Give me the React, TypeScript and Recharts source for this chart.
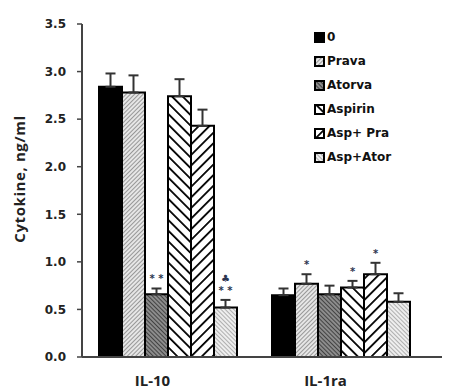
import { BarChart, Bar, XAxis, YAxis, ErrorBar, Legend, LabelList } from "recharts";

// groups and series
const categories = ["IL-10", "IL-1ra"];
const seriesNames = ["0", "Prava", "Atorva", "Aspirin", "Asp+ Pra", "Asp+Ator"];

const ctrl = [2.84, 0.65];
const prava = [2.78, 0.77];
const atorva = [0.66, 0.66];
const aspirin = [2.74, 0.73];
const aspPra = [2.43, 0.87];
const aspAtor = [0.52, 0.58];

const ctrlErr = [0.14, 0.07];
const pravaErr = [0.18, 0.1];
const atorvaErr = [0.06, 0.09];
const aspirinErr = [0.18, 0.07];
const aspPraErr = [0.17, 0.12];
const aspAtorErr = [0.08, 0.09];

// significance marks above the error bars
const ctrlMark = ["", ""];
const pravaMark = ["", "*"];
const atorvaMark = ["* *", ""];
const aspirinMark = ["", "*"];
const aspPraMark = ["", "*"];
const aspAtorMark = ["♣\n* *", ""];

const yTicks = [0, 0.5, 1, 1.5, 2, 2.5, 3, 3.5];

const values = [ctrl, prava, atorva, aspirin, aspPra, aspAtor];
const errors = [ctrlErr, pravaErr, atorvaErr, aspirinErr, aspPraErr, aspAtorErr];
const marks = [ctrlMark, pravaMark, atorvaMark, aspirinMark, aspPraMark, aspAtorMark];
const fills = ["#000", "url(#pPrava)", "url(#pAtorva)", "url(#pAspirin)", "url(#pAspPra)", "url(#pAspAtor)"];

const data = categories.map((c, i) => {
  const row: Record<string, any> = { name: c };
  values.forEach((v, s) => {
    row["s" + s] = v[i];
    row["e" + s] = [0, errors[s][i]];
  });
  return row;
});

const makeMark = (s: number) => (props: any) => {
  const { x, y, width, height, value, index } = props;
  const txt = marks[s][index];
  if (!txt) return null;
  const pxPerUnit = height / value;
  const top = y - errors[s][index] * pxPerUnit;
  const lines = txt.split("\n");
  return (
    <g>
      {lines.map((l: string, k: number) => (
        <text
          key={k}
          x={x + width / 2}
          y={top - 6 - (lines.length - 1 - k) * 12}
          textAnchor="middle"
          fontSize={10}
          fontWeight="bold"
          fill="#2b3550"
          fontFamily="DejaVu Sans"
        >
          {l}
        </text>
      ))}
    </g>
  );
};

const renderLegend = () => (
  <div style={{ fontFamily: "DejaVu Sans", fontWeight: "bold", fontSize: 12, color: "#111" }}>
    {seriesNames.map((n, i) => (
      <div key={n} style={{ display: "flex", alignItems: "center", height: 24 }}>
        <svg width={11} height={11} style={{ marginRight: 2 }}>
          <rect x={1} y={1} width={9} height={9} fill={fills[i]} stroke="#000" strokeWidth={2} />
        </svg>
        <span>{n}</span>
      </div>
    ))}
  </div>
);

const XTick = (props: any) => {
  const { x, y, payload } = props;
  return (
    <text x={x - 16} y={y + 21} textAnchor="middle" fontFamily="Open Sans" fontWeight="bold" fontSize={15} fill="#222">
      {payload.value}
    </text>
  );
};

export default function App() {
  return (
    <BarChart
      width={450}
      height={382}
      data={data}
      margin={{ top: 16, right: 16, left: 0, bottom: 2 }}
      barGap={0}
      barCategoryGap={17}
    >
      <defs>
        <pattern id="pPrava" patternUnits="userSpaceOnUse" width={3} height={3} patternTransform="rotate(45)">
          <rect width={3} height={3} fill="#e6e6e6" />
          <line x1={0} y1={0} x2={0} y2={3} stroke="#6e6e6e" strokeWidth={1.3} />
        </pattern>
        <pattern id="pAtorva" patternUnits="userSpaceOnUse" width={3} height={3} patternTransform="rotate(-45)">
          <rect width={3} height={3} fill="#8c8c8c" />
          <line x1={0} y1={0} x2={0} y2={3} stroke="#2a2a2a" strokeWidth={1.5} />
        </pattern>
        <pattern id="pAspirin" patternUnits="userSpaceOnUse" width={7.5} height={7.5} patternTransform="rotate(-45)">
          <rect width={7.5} height={7.5} fill="#fff" />
          <line x1={0} y1={0} x2={0} y2={7.5} stroke="#000" strokeWidth={3.6} />
        </pattern>
        <pattern id="pAspPra" patternUnits="userSpaceOnUse" width={7.5} height={7.5} patternTransform="rotate(45)">
          <rect width={7.5} height={7.5} fill="#fff" />
          <line x1={0} y1={0} x2={0} y2={7.5} stroke="#000" strokeWidth={3.6} />
        </pattern>
        <pattern id="pAspAtor" patternUnits="userSpaceOnUse" width={3} height={3} patternTransform="rotate(-45)">
          <rect width={3} height={3} fill="#eeeeee" />
          <line x1={0} y1={0} x2={0} y2={3} stroke="#7a7a7a" strokeWidth={1.1} />
        </pattern>
      </defs>
      <XAxis
        dataKey="name"
        tick={<XTick />}
        tickLine={false}
        axisLine={{ stroke: "#444", strokeWidth: 2 }}
        height={31}
        padding={{ left: 0, right: 14 }}
      />
      <YAxis
        domain={[0, 3.5]}
        ticks={yTicks}
        width={74}
        tickSize={5}
        tickMargin={11}
        tickLine={{ stroke: "#444", strokeWidth: 1.5 }}
        axisLine={{ stroke: "#444", strokeWidth: 2 }}
        tickFormatter={(v: number) => v.toFixed(1)}
        tick={{ fill: "#222", fontSize: 12, fontWeight: "bold", fontFamily: "DejaVu Sans" }}
        label={{
          content: () => (
            <text
              x={17}
              y={171}
              transform="rotate(-90 17 171)"
              textAnchor="middle"
              fontFamily="Open Sans"
              fontWeight="bold"
              fontSize={15}
              letterSpacing={0.6}
              fill="#222"
            >
              Cytokine, ng/ml
            </text>
          ),
        }}
      />
      <Legend
        layout="vertical"
        align="center"
        verticalAlign="middle"
        content={renderLegend}
        wrapperStyle={{ left: 306, top: 17, width: 120 }}
      />
      {seriesNames.map((n, s) => (
        <Bar key={n} dataKey={"s" + s} name={n} fill={fills[s]} stroke="#000" strokeWidth={2} isAnimationActive={false}>
          <ErrorBar dataKey={"e" + s} width={5} stroke="#333" strokeWidth={2} direction="y" />
          <LabelList dataKey={"s" + s} content={makeMark(s)} />
        </Bar>
      ))}
    </BarChart>
  );
}
